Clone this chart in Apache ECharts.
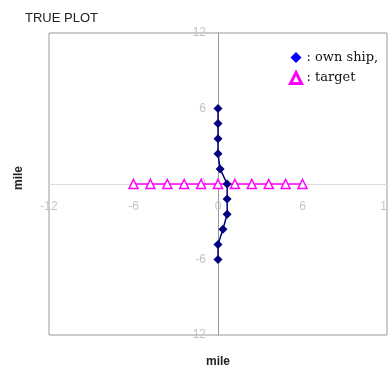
<!DOCTYPE html>
<html><head><meta charset="utf-8">
<script src="https://cdn.jsdelivr.net/npm/echarts@6/dist/echarts.min.js"></script>
<style>html,body{margin:0;padding:0;background:#fff}#c{width:388px;height:372px}</style>
</head><body><div id="c"></div>
<script>
var ownShipX = [0, 0, 0, 0, 0.15, 0.65, 0.65, 0.65, 0.35, 0, 0];
var ownShipY = [6, 4.8, 3.6, 2.4, 1.2, 0, -1.2, -2.4, -3.6, -4.8, -6];
var targetX = [-6, -4.8, -3.6, -2.4, -1.2, 0, 1.2, 2.4, 3.6, 4.8, 6];
var targetY = [0, 0, 0, 0, 0, 0, 0, 0, 0, 0, 0];
var axisTicks = [-12, -6, 0, 6, 12];

var chart = echarts.init(document.getElementById('c'));
function pairs(xs, ys){ return xs.map(function(x,i){return [x, ys[i]];}); }
var lbl = {color:'#c4c4c4', fontSize:12, fontFamily:'Liberation Sans, Arial'};
var amin = axisTicks[0], amax = axisTicks[axisTicks.length-1];
chart.setOption({
  animation:false,
  title:{text:'TRUE PLOT', left:20, top:7, textStyle:{fontFamily:'Liberation Sans, Arial', fontSize:13, fontWeight:'normal', color:'#222'}},
  grid:{left:49, right:1, top:33, bottom:37, show:true, borderColor:'#999', borderWidth:1, outerBoundsMode:'none', containLabel:false},
  legend:{orient:'vertical', left:284, top:46, itemGap:7, itemWidth:11, itemHeight:11,
    textStyle:{fontFamily:'DejaVu Serif, Liberation Serif, serif', fontSize:13, color:'#111'},
    formatter:function(n){return n==='own ship' ? ': own ship,' : ': target';},
    data:[{name:'own ship', icon:'diamond', itemStyle:{color:'#0000ff'}},
          {name:'target', icon:'triangle', itemStyle:{color:'#fff', borderColor:'#ff00ff', borderWidth:3}}]},
  xAxis:[
    {type:'value', min:amin, max:amax, interval:6,
      axisLine:{onZero:true, lineStyle:{color:'#dcdcdc', width:1}},
      axisTick:{show:false}, splitLine:{show:false}, axisLabel:{show:false}},
    {type:'value', min:amin, max:amax, interval:6, position:'bottom', offset:-142,
      axisLine:{show:false, onZero:false}, axisTick:{show:false}, splitLine:{show:false},
      axisLabel:Object.assign({margin:8}, lbl)}],
  yAxis:[
    {type:'value', min:amin, max:amax, interval:6,
      axisLine:{onZero:true, lineStyle:{color:'#999', width:1}},
      axisTick:{show:false}, splitLine:{show:false}, axisLabel:{show:false}},
    {type:'value', min:amin, max:amax, interval:6, position:'left', offset:-169,
      axisLine:{show:false, onZero:false}, axisTick:{show:false}, splitLine:{show:false},
      axisLabel:Object.assign({margin:12}, lbl)}],
  graphic:[
    {type:'text', left:13, top:166, rotation:Math.PI/2,
      style:{text:'mile', font:'bold 12px Liberation Sans, Arial', fill:'#222'}},
    {type:'text', left:206, top:356,
      style:{text:'mile', font:'bold 12px Liberation Sans, Arial', fill:'#222'}}],
  series:[
    {name:'target', type:'line', data:pairs(targetX, targetY), symbol:'triangle', symbolSize:9,
      lineStyle:{color:'#ff00ff', width:1.5}, itemStyle:{color:'#fff', borderColor:'#ff00ff', borderWidth:1.5}, z:2},
    {name:'own ship', type:'line', data:pairs(ownShipX, ownShipY), symbol:'diamond', symbolSize:9,
      lineStyle:{color:'#000080', width:1.5}, itemStyle:{color:'#000080'}, z:3}
  ]
});
</script></body></html>
